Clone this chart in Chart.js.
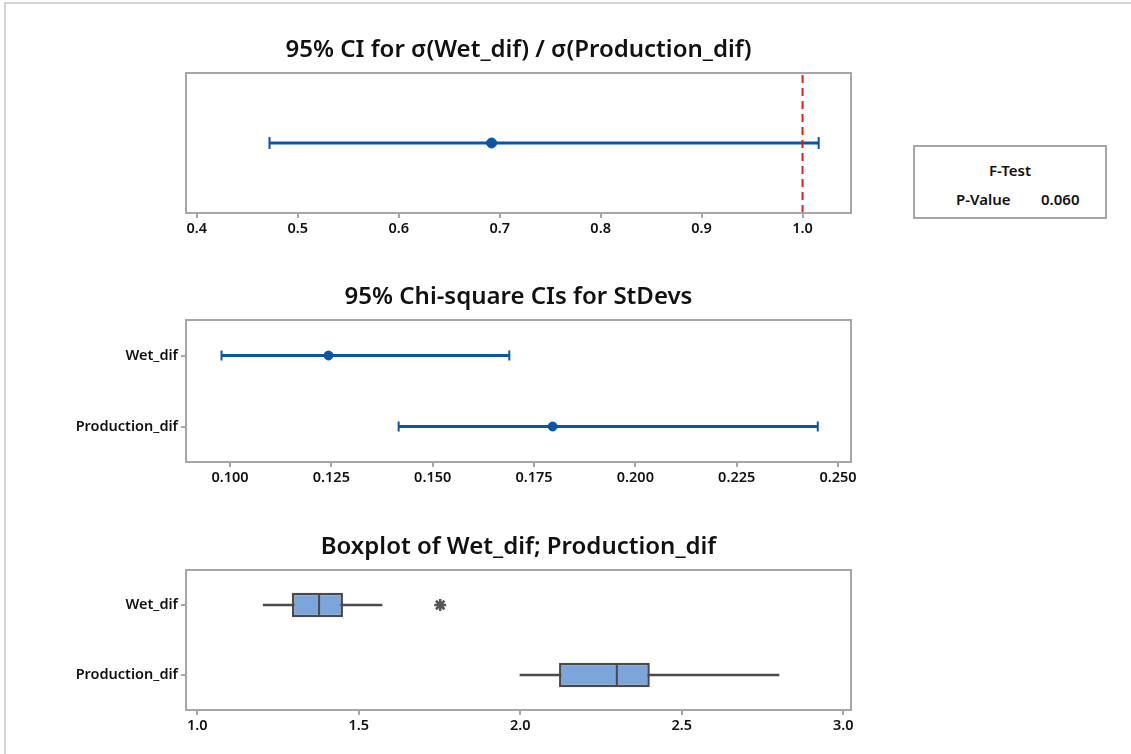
<!DOCTYPE html>
<html>
<head>
<meta charset="utf-8">
<script src="https://cdn.jsdelivr.net/npm/chart.js@4.4.1/dist/chart.umd.min.js"></script>
<style>
  html, body { margin: 0; padding: 0; background: #fff; }
  body { width: 1131px; height: 754px; position: relative; overflow: hidden; font-family: "Noto Sans", sans-serif; }
  .frame { position: absolute; left: 4px; top: 2px; width: 1140px; height: 760px; border-top: 2px solid #d4d4d4; border-left: 2px solid #d4d4d4; }
  .plot { position: absolute; left: 0; width: 880px; }
  #ftest { position: absolute; left: 913px; top: 145px; width: 190px; height: 70px; border: 2px solid #a6a6a6; color: #111; font-size: 15px; font-weight: 600; }
  #ftest .t1 { position: absolute; top: 13px; width: 100%; text-align: center; }
  #ftest .t2 { position: absolute; top: 42px; left: 41px; }
  #ftest .t3 { position: absolute; top: 42px; left: 126px; }
</style>
</head>
<body>
<div class="frame"></div>
<div class="plot" style="top:36px;height:211px"><canvas id="ratioChart"></canvas></div>
<div class="plot" style="top:283px;height:213px"><canvas id="sdChart"></canvas></div>
<div class="plot" style="top:533px;height:211px"><canvas id="boxChart"></canvas></div>
<div id="ftest"><div class="t1">F-Test</div><div class="t2">P-Value</div><div class="t3">0.060</div></div>
<script>
// ratio of standard deviations
const ratioTicks = [0.4, 0.5, 0.6, 0.7, 0.8, 0.9, 1.0];
const ratioCI = [0.472, 1.016];
const ratioEst = 0.692;
const ratioRef = 1.0;

// chi-square CIs for StDevs
const groups = ["Wet_dif", "Production_dif"];
const sdTicks = [0.100, 0.125, 0.150, 0.175, 0.200, 0.225, 0.250];
const sdLower = [0.0979, 0.1416];
const sdEst = [0.1243, 0.1796];
const sdUpper = [0.1689, 0.2450];

// boxplot
const boxTicks = [1.0, 1.5, 2.0, 2.5, 3.0];
const boxMin = [1.203, 1.998];
const boxQ1 = [1.293, 2.120];
const boxMed = [1.377, 2.299];
const boxQ3 = [1.451, 2.401];
const boxMax = [1.573, 2.802];
const outliers = [{ group: "Wet_dif", value: 1.752 }];

const BLUE = "#0a56a4";
const GREY = "#a6a6a6";
const DARK = "#4a4a4a";

Chart.defaults.font.family = "'Noto Sans', sans-serif";
Chart.defaults.color = "#111";

// grey box round the plot area
const frame = {
    id: "frame",
    afterDraw(chart) {
        const a = chart.chartArea, c = chart.ctx;
        c.save();
        c.strokeStyle = GREY;
        c.lineWidth = 2;
        c.strokeRect(a.left, a.top, a.right - a.left, a.bottom - a.top);
        c.restore();
    }
};

function xAxis(min, max, ticks, digits) {
    return {
        type: "linear", min: min, max: max,
        afterBuildTicks: s => { s.ticks = ticks.map(v => ({ value: v })); },
        afterFit: s => { s.height = 34; },
        border: { display: false },
        grid: { drawOnChartArea: false, tickLength: 5, color: GREY, lineWidth: 2 },
        ticks: { padding: 2, font: { size: 14.5, weight: "600" }, callback: v => v.toFixed(digits) }
    };
}

function catAxis() {
    return {
        type: "category", labels: groups, offset: true,
        afterFit: s => { s.width = 186; },
        border: { display: false },
        grid: { drawOnChartArea: false, offset: false, tickLength: 5, color: GREY, lineWidth: 2 },
        ticks: { padding: 3, font: { size: 14.5, weight: "600" } }
    };
}

function baseOptions(title) {
    return {
        responsive: true,
        maintainAspectRatio: false,
        animation: false,
        layout: { padding: { left: 0, right: 29, top: 0, bottom: 0 } },
        plugins: {
            legend: { display: false },
            tooltip: { enabled: false },
            title: {
                display: true, text: title, color: "#111", fullSize: false,
                font: { size: 24, weight: "600", lineHeight: "28px" },
                padding: { top: 0, bottom: 9 }
            }
        }
    };
}

// chart 1
const opt1 = baseOptions("95% CI for σ(Wet_dif) / σ(Production_dif)");
opt1.scales = {
    x: xAxis(0.3893, 1.048, ratioTicks, 1),
    y: {
        type: "linear", min: -1, max: 1,
        afterFit: s => { s.width = 186; },
        border: { display: false }, grid: { display: false }, ticks: { display: false }
    }
};
new Chart(document.getElementById("ratioChart"), {
    type: "scatter",
    data: {
        datasets: [
            {
                data: [{ x: ratioRef, y: -1 }, { x: ratioRef, y: 1 }],
                showLine: true, borderColor: "#dc1e1e", borderWidth: 2, borderDash: [8, 5],
                pointRadius: 0, order: 1
            },
            {
                data: ratioCI.map(v => ({ x: v, y: 0 })),
                showLine: true, borderColor: BLUE, borderWidth: 3,
                pointStyle: "line", pointRotation: 90, pointRadius: 6,
                pointBorderWidth: 2, pointBorderColor: BLUE, order: 3
            },
            {
                data: [{ x: ratioEst, y: 0 }],
                pointRadius: 5, pointBackgroundColor: BLUE, pointBorderColor: BLUE, order: 2
            }
        ]
    },
    options: opt1,
    plugins: [frame]
});

// chart 2
const opt2 = baseOptions("95% Chi-square CIs for StDevs");
opt2.scales = { x: xAxis(0.08914, 0.2532, sdTicks, 3), y: catAxis() };
const sdLines = groups.map((g, i) => ({
    data: [{ x: sdLower[i], y: g }, { x: sdUpper[i], y: g }],
    showLine: true, borderColor: BLUE, borderWidth: 3,
    pointStyle: "line", pointRotation: 90, pointRadius: 5,
    pointBorderWidth: 2, pointBorderColor: BLUE, order: 3
}));
new Chart(document.getElementById("sdChart"), {
    type: "scatter",
    data: {
        datasets: sdLines.concat([{
            data: groups.map((g, i) => ({ x: sdEst[i], y: g })),
            pointRadius: 4.5, pointBackgroundColor: BLUE, pointBorderColor: BLUE, order: 1
        }])
    },
    options: opt2,
    plugins: [frame]
});

// chart 3
const opt3 = baseOptions("Boxplot of Wet_dif; Production_dif");
opt3.scales = { x: xAxis(0.965, 3.024, boxTicks, 1), y: catAxis() };
const whiskers = groups.map((g, i) => ({
    data: [{ x: boxMin[i], y: g }, { x: boxMax[i], y: g }],
    showLine: true, borderColor: DARK, borderWidth: 2.5, pointRadius: 0, order: 4
}));
new Chart(document.getElementById("boxChart"), {
    type: "scatter",
    data: {
        datasets: whiskers.concat([
            {
                type: "bar", indexAxis: "y",
                data: groups.map((g, i) => [boxQ1[i], boxQ3[i]]),
                backgroundColor: "#7ca6da", borderColor: DARK, borderWidth: 2.5,
                borderSkipped: false, barPercentage: 0.35, categoryPercentage: 1, order: 3
            },
            {
                data: groups.map((g, i) => ({ x: boxMed[i], y: g })),
                pointStyle: "line", pointRotation: 90, pointRadius: 12,
                pointBorderWidth: 2, pointBorderColor: DARK, order: 2
            },
            {
                data: outliers.map(o => ({ x: o.value, y: o.group })),
                pointStyle: "star", pointRadius: 6, pointBorderWidth: 2.5,
                pointBorderColor: "#555", order: 1
            }
        ])
    },
    options: opt3,
    plugins: [frame]
});
</script>
</body>
</html>
